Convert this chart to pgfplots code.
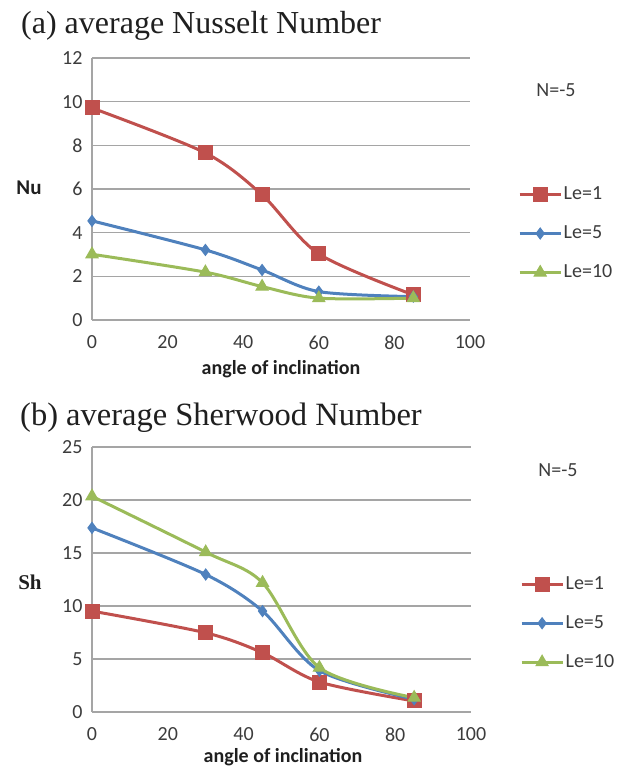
\documentclass[border=0pt]{standalone}
\usepackage{fontspec}
\setmainfont{Liberation Serif}
\newfontfamily\calibri{Carlito}
\usepackage{pgfplots}
\pgfplotsset{compat=1.18}

\definecolor{exred}{RGB}{192,80,77}
\definecolor{exblue}{RGB}{79,129,189}
\definecolor{exgreen}{RGB}{155,187,89}
\definecolor{gridgray}{RGB}{165,165,165}
\definecolor{tickgray}{RGB}{60,60,60}

\newcommand{\tickfont}{\calibri\fontsize{20bp}{24bp}\selectfont}

\pgfplotsset{
  excel/.style={
    scale only axis,
    clip=false,
    axis x line*=bottom, axis y line*=left,
    axis line style={draw=gridgray, line width=1.5bp},
    ymajorgrids, major grid style={draw=gridgray, line width=1.5bp},
    major tick length=0pt,
    xmin=0, xmax=100, xtick={0,20,...,100},
    ymin=0,
    tick label style={font=\tickfont, text=tickgray},
    xticklabel style={yshift=-12bp},
    yticklabel style={xshift=-6bp},
    /pgf/number format/assume math mode=true,
    legend cell align=left,
    legend image code/.code={\draw[mark repeat=2,mark phase=2]
      plot coordinates {(0bp,0bp)(20.5bp,0bp)(41bp,0bp)};},
    legend style={draw=none, fill=none, inner sep=0pt, row sep=18bp,
      anchor=west, font=\tickfont, text=tickgray,
      nodes={inner sep=1.5bp, text height=14bp, text depth=4bp}},
  },
  le1/.style={exred, line width=3bp, smooth,
    mark=square*, mark size=7bp, mark options={fill=exred, draw=exred, solid, line width=1bp}},
  le5/.style={exblue, line width=3bp, smooth,
    mark=diamond*, mark size=5.5bp, mark options={fill=exblue, draw=exblue, solid, line width=1bp}},
  le10/.style={exgreen, line width=3bp, smooth,
    mark=triangle*, mark size=7bp, mark options={fill=exgreen, draw=exgreen, solid, line width=1bp}},
}

\begin{document}
\begin{tikzpicture}[x=1bp,y=1bp]
\useasboundingbox (0,0) rectangle (618,767);

% ---------- (a) average Nusselt number ----------
\node[anchor=base west, inner sep=0pt, font=\fontsize{32bp}{38bp}\selectfont, text=black!88]
  at (21,733) {(a) average Nusselt Number};
\node[font=\calibri\bfseries\fontsize{21bp}{24bp}\selectfont, text=black!88] at (29,579) {Nu};
\node[font=\tickfont, text=tickgray] at (556,677) {N=-5};
\node[font=\calibri\bfseries\fontsize{20bp}{24bp}\selectfont, text=black!88] at (281,398) {angle of inclination};

\begin{axis}[excel, at={(92bp,447bp)}, anchor=south west,
    width=378bp, height=262bp, ymax=12, ytick={0,2,...,12},
    legend style={at={(axis description cs:1.127,0.33)}}]
  \addplot[le1]  coordinates {(0,9.71) (30,7.65) (45,5.73) (60,3.03) (85,1.15)};
  \addplot[le5]  coordinates {(0,4.54) (30,3.21) (45,2.29) (60,1.30) (85,1.07)};
  \addplot[le10] coordinates {(0,3.01) (30,2.19) (45,1.53) (60,1.00) (85,1.00)};
  \legend{Le=1, Le=5, Le=10}
\end{axis}

% ---------- (b) average Sherwood number ----------
\node[anchor=base west, inner sep=0pt, font=\fontsize{32.5bp}{38bp}\selectfont, text=black!88]
  at (20,341) {(b) average Sherwood Number};
\node[font=\bfseries\fontsize{21bp}{24bp}\selectfont, text=black!88] at (30,185) {Sh};
\node[font=\tickfont, text=tickgray] at (558,297) {N=-5};
\node[font=\calibri\bfseries\fontsize{20bp}{24bp}\selectfont, text=black!88] at (283,10) {angle of inclination};

\begin{axis}[excel, at={(92bp,55bp)}, anchor=south west,
    width=379bp, height=265bp, ymax=25, ytick={0,5,...,25},
    legend style={at={(axis description cs:1.129,0.335)}}]
  \addplot[le1]  coordinates {(0,9.52) (30,7.47) (45,5.59) (60,2.83) (85,1.04)};
  \addplot[le5]  coordinates {(0,17.37) (30,12.97) (45,9.52) (60,3.90) (85,1.20)};
  \addplot[le10] coordinates {(0,20.35) (30,15.08) (45,12.19) (60,4.18) (85,1.35)};
  \legend{Le=1, Le=5, Le=10}
\end{axis}
\end{tikzpicture}
\end{document}
